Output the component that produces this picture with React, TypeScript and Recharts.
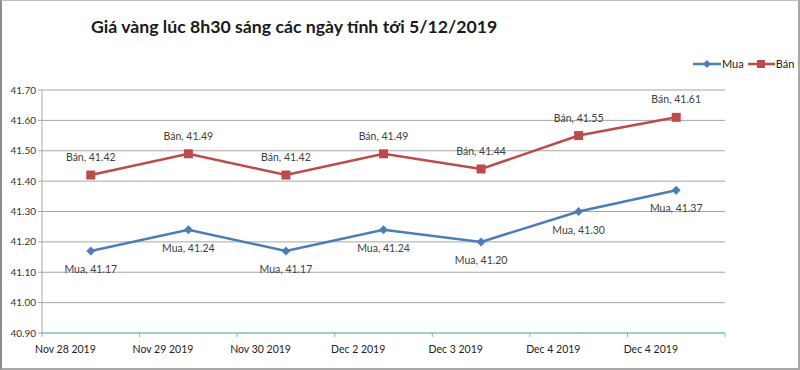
import React from 'react';
import { LineChart, Line, XAxis, YAxis, CartesianGrid, LabelList } from 'recharts';

const categories = ['Nov 28 2019', 'Nov 29 2019', 'Nov 30 2019', 'Dec 2 2019', 'Dec 3 2019', 'Dec 4 2019', 'Dec 4 2019'];
const muaValues = [41.17, 41.24, 41.17, 41.24, 41.2, 41.3, 41.37];
const banValues = [41.42, 41.49, 41.42, 41.49, 41.44, 41.55, 41.61];
const yTicks = [40.9, 41.0, 41.1, 41.2, 41.3, 41.4, 41.5, 41.6, 41.7];

const data = categories.map((c, i) => ({ name: c, key: i, mua: muaValues[i], ban: banValues[i] }));

const BLUE = '#4A7EBB';
const RED = '#BE4B48';
const FONT = 'Lato, "Liberation Sans", sans-serif';

const Diamond = (props: any) => {
  const { cx, cy } = props;
  if (cx == null || cy == null) return null;
  const r = 4.5;
  return <path d={`M${cx},${cy - r}L${cx + r},${cy}L${cx},${cy + r}L${cx - r},${cy}Z`} fill={BLUE} />;
};
const Square = (props: any) => {
  const { cx, cy } = props;
  if (cx == null || cy == null) return null;
  const r = 4.5;
  return <rect x={cx - r} y={cy - r} width={2 * r} height={2 * r} fill={RED} />;
};

const makeLabel = (prefix: string, dy: number) => (props: any) => {
  const { x, y, value } = props;
  return (
    <text x={x} y={y + dy} textAnchor="middle" fontSize={10.5} fontFamily={FONT} fill="#404040">
      {`${prefix}, ${Number(value).toFixed(2)}`}
    </text>
  );
};

const XTick = (props: any) => {
  const { x, y, payload, index, visibleTicksCount } = props;
  const off = payload.offset || 0;
  return (
    <g>
      <line x1={x - off} x2={x - off} y1={y - 8} y2={y - 4} stroke="#A6A6A6" />
      {index === visibleTicksCount - 1 && (
        <line x1={x + off} x2={x + off} y1={y - 8} y2={y - 4} stroke="#A6A6A6" />
      )}
      <text x={x - off * 0.52} y={y + 12} textAnchor="middle" fontSize={10.5} fontFamily={FONT} fill="#222">
        {categories[payload.value]}
      </text>
    </g>
  );
};

export default function App() {
  return (
    <div style={{ position: 'absolute', left: 0, top: 0, width: 800, height: 370, background: '#fff' }}>
      <div
        style={{
          position: 'absolute', left: 0, top: 0, width: 796, height: 367,
          borderLeft: '2px solid #8C8C8C', borderTop: '1px solid #BDBDBD',
          borderRight: '2px solid #A8A8A8', borderBottom: '2px solid #A8A8A8',
        }}
      />
      <div
        style={{
          position: 'absolute', left: 91, top: 16, fontFamily: FONT, fontWeight: 700,
          fontSize: 17.7, color: '#1a1a1a', whiteSpace: 'nowrap',
        }}
      >
        Giá vàng lúc 8h30 sáng các ngày tính tới 5/12/2019
      </div>
      <div style={{ position: 'absolute', left: 693, top: 57, fontFamily: FONT, fontSize: 11, color: '#222', display: 'flex', alignItems: 'center' }}>
        <svg width={28} height={12}>
          <line x1={0} x2={28} y1={6} y2={6} stroke={BLUE} strokeWidth={2.5} />
          <path d="M14,2L18,6L14,10L10,6Z" fill={BLUE} />
        </svg>
        <span style={{ marginLeft: 1, marginRight: 4 }}>Mua</span>
        <svg width={27} height={12}>
          <line x1={0} x2={27} y1={6} y2={6} stroke={RED} strokeWidth={2.5} />
          <rect x={9} y={2} width={8} height={8} fill={RED} />
        </svg>
        <span style={{ marginLeft: 1 }}>Bán</span>
      </div>
      <div style={{ position: 'absolute', left: 0, top: 0 }}>
        <LineChart width={800} height={370} data={data} margin={{ top: 90, right: 75, bottom: 7, left: 0 }}>
          <CartesianGrid vertical={false} stroke="#A6A6A6" strokeWidth={1} />
          <XAxis
            dataKey="key"
            type="category"
            scale="band"
            axisLine={{ stroke: '#7FCFD6', strokeWidth: 1.5 }}
            tickLine={false}
            tick={<XTick />}
            height={30}
            interval={0}
          />
          <YAxis
            domain={[40.9, 41.7]}
            ticks={yTicks}
            width={42}
            axisLine={{ stroke: '#A6A6A6' }}
            tickLine={{ stroke: '#A6A6A6' }}
            tickSize={4}
            tick={{ fontSize: 10, fontFamily: FONT, fill: '#333' }}
            tickFormatter={(v: number) => v.toFixed(2)}
            allowDataOverflow
          />
          <Line dataKey="mua" stroke={BLUE} strokeWidth={2.5} dot={<Diamond />} activeDot={false} isAnimationActive={false}>
            <LabelList dataKey="mua" content={makeLabel('Mua', 22)} />
          </Line>
          <Line dataKey="ban" stroke={RED} strokeWidth={2.5} dot={<Square />} activeDot={false} isAnimationActive={false}>
            <LabelList dataKey="ban" content={makeLabel('Bán', -14)} />
          </Line>
        </LineChart>
      </div>
    </div>
  );
}
